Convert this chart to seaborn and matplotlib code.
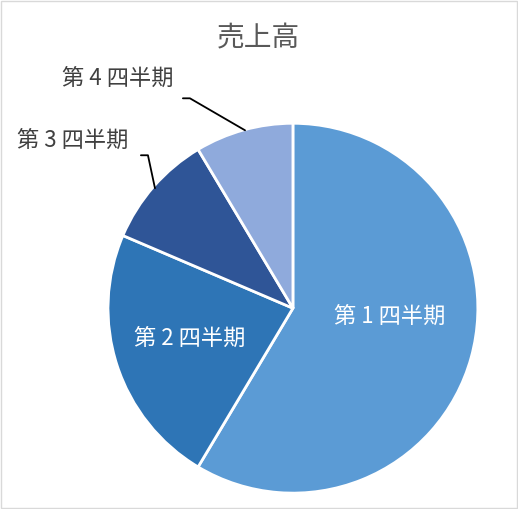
import matplotlib
matplotlib.use("Agg")
import matplotlib.pyplot as plt
import seaborn as sns
from matplotlib.patches import Rectangle

# data
categories = ["第 1 四半期", "第 2 四半期", "第 3 四半期", "第 4 四半期"]
sales = [8.2, 3.2, 1.4, 1.2]
colors = ["#5B9BD5", "#2E75B6", "#2F5597", "#8FAADC"]

sns.set_style("white")
plt.rcParams['font.family'] = ['Noto Sans CJK JP', 'DejaVu Sans']

fig = plt.figure(figsize=(5.18, 5.09), dpi=100)
ax = fig.add_axes([0.2085, 0.031, 0.714, 0.727])

wedges, _ = ax.pie(sales, colors=sns.color_palette(colors), startangle=90,
                   counterclock=False, radius=1.0,
                   wedgeprops=dict(edgecolor="white", linewidth=2))
ax.set_xlim(-1, 1)
ax.set_ylim(-1, 1)
ax.axis("off")

lbl = dict(fontsize=16, ha="center", va="center", clip_on=False)
# labels inside
ax.text(0.524, -0.043, categories[0], color="white", **lbl)
ax.text(-0.557, -0.162, categories[1], color="white", **lbl)
# labels outside with leader lines
ax.text(-1.19, 0.908, categories[2], color="#404040", **lbl)
ax.text(-0.946, 1.243, categories[3], color="#404040", **lbl)
ax.plot([-0.822, -0.784, -0.746], [0.827, 0.827, 0.649], color="black",
        lw=1.3, clip_on=False)
ax.plot([-0.595, -0.557, -0.259], [1.135, 1.135, 0.962], color="black",
        lw=1.3, clip_on=False)

fig.text(0.498, 0.925, "売上高", color="#595959", fontsize=20,
         ha="center", va="center")

fig.patches.append(Rectangle((0.002, 0.002), 0.996, 0.996, transform=fig.transFigure,
                             fill=False, edgecolor="#D9D9D9", linewidth=1))

fig.savefig("out.png", dpi=100)
